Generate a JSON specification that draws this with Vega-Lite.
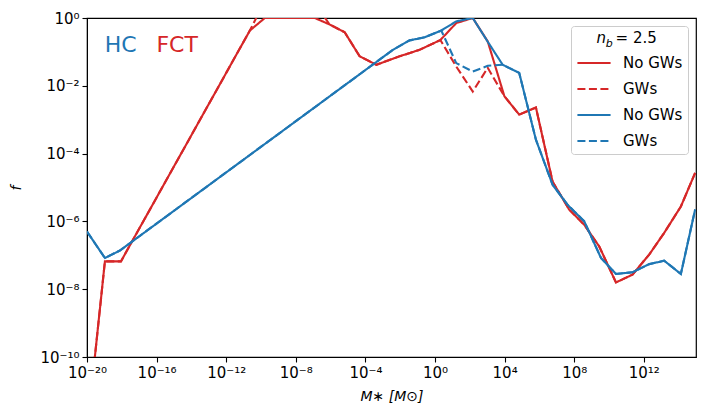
{
  "$schema": "https://vega.github.io/schema/vega-lite/v6.json",
  "width": 609,
  "height": 339,
  "autosize": {"type": "none"},
  "padding": {"left": 87, "top": 18, "right": 12, "bottom": 62},
  "config": {
    "font": "DejaVu Sans",
    "view": {"stroke": "black", "strokeWidth": 1.2},
    "axis": {
      "grid": false,
      "domainColor": "black",
      "tickColor": "black",
      "labelColor": "black",
      "titleColor": "black",
      "labelFont": "DejaVu Sans",
      "titleFont": "DejaVu Sans",
      "labelFontSize": 15,
      "titleFontSize": 14,
      "titleFontWeight": "normal",
      "labelFlush": false,
      "tickSize": 5,
      "tickWidth": 1.1
    }
  },
  "encoding": {
    "x": {
      "field": "m",
      "type": "quantitative",
      "scale": {"type": "log", "domain": [1e-20, 1e15], "nice": false},
      "axis": {
        "title": "M∗ [M⊙]",
        "titleFontStyle": "italic",
        "titlePadding": 9,
        "labelPadding": 3,
        "values": [1e-20, 1e-16, 1e-12, 1e-8, 1e-4, 1, 1e4, 1e8, 1e12],
        "labelExpr": "'10' + replace(replace(replace(replace(replace(replace(replace(replace(replace(replace(replace('' + round(log(datum.value) / LN10), regexp('-', 'g'), '⁻'), regexp('0', 'g'), '⁰'), regexp('1', 'g'), '¹'), regexp('2', 'g'), '²'), regexp('3', 'g'), '³'), regexp('4', 'g'), '⁴'), regexp('5', 'g'), '⁵'), regexp('6', 'g'), '⁶'), regexp('7', 'g'), '⁷'), regexp('8', 'g'), '⁸'), regexp('9', 'g'), '⁹')"
      }
    },
    "y": {
      "field": "f",
      "type": "quantitative",
      "scale": {"type": "log", "domain": [1e-10, 1], "nice": false},
      "axis": {
        "title": "f",
        "titleFontStyle": "italic",
        "titlePadding": 16,
        "labelPadding": 3,
        "values": [1e-10, 1e-8, 1e-6, 1e-4, 1e-2, 1],
        "labelExpr": "'10' + replace(replace(replace(replace(replace(replace(replace(replace(replace(replace(replace('' + round(log(datum.value) / LN10), regexp('-', 'g'), '⁻'), regexp('0', 'g'), '⁰'), regexp('1', 'g'), '¹'), regexp('2', 'g'), '²'), regexp('3', 'g'), '³'), regexp('4', 'g'), '⁴'), regexp('5', 'g'), '⁵'), regexp('6', 'g'), '⁶'), regexp('7', 'g'), '⁷'), regexp('8', 'g'), '⁸'), regexp('9', 'g'), '⁹')"
      }
    }
  },
  "layer": [
    {
      "data": {
        "values": [
          {"s": "FCT No GWs", "m": 1e-20, "f": 6.31e-13},
          {"s": "FCT No GWs", "m": 1.07e-19, "f": 6.61e-8},
          {"s": "FCT No GWs", "m": 8.91e-19, "f": 6.61e-8},
          {"s": "FCT No GWs", "m": 2.29e-11, "f": 0.427},
          {"s": "FCT No GWs", "m": 1.66e-10, "f": 1.0},
          {"s": "FCT No GWs", "m": 1.23e-7, "f": 1.0},
          {"s": "FCT No GWs", "m": 8.71e-7, "f": 0.646},
          {"s": "FCT No GWs", "m": 6.46e-6, "f": 0.38},
          {"s": "FCT No GWs", "m": 4.68e-5, "f": 0.0741},
          {"s": "FCT No GWs", "m": 4.27e-4, "f": 0.0417},
          {"s": "FCT No GWs", "m": 9.12e-3, "f": 0.0741},
          {"s": "FCT No GWs", "m": 0.129, "f": 0.115},
          {"s": "FCT No GWs", "m": 2.04, "f": 0.224},
          {"s": "FCT No GWs", "m": 16.6, "f": 0.708},
          {"s": "FCT No GWs", "m": 148, "f": 1.0},
          {"s": "FCT No GWs", "m": 1072, "f": 0.204},
          {"s": "FCT No GWs", "m": 9772, "f": 0.0049},
          {"s": "FCT No GWs", "m": 6.92e4, "f": 0.00141},
          {"s": "FCT No GWs", "m": 6.31e5, "f": 0.00229},
          {"s": "FCT No GWs", "m": 5.75e6, "f": 1.48e-5},
          {"s": "FCT No GWs", "m": 5.13e7, "f": 2.24e-6},
          {"s": "FCT No GWs", "m": 3.8e8, "f": 7.94e-7},
          {"s": "FCT No GWs", "m": 2.75e9, "f": 1.82e-7},
          {"s": "FCT No GWs", "m": 2.51e10, "f": 1.58e-8},
          {"s": "FCT No GWs", "m": 2.24e11, "f": 2.69e-8},
          {"s": "FCT No GWs", "m": 2.04e12, "f": 1.05e-7},
          {"s": "FCT No GWs", "m": 1.48e13, "f": 4.57e-7},
          {"s": "FCT No GWs", "m": 1.35e14, "f": 2.75e-6},
          {"s": "FCT No GWs", "m": 8.91e14, "f": 2.69e-5},

          {"s": "FCT GWs", "m": 1e-20, "f": 6.31e-13},
          {"s": "FCT GWs", "m": 1.07e-19, "f": 6.61e-8},
          {"s": "FCT GWs", "m": 8.91e-19, "f": 6.61e-8},
          {"s": "FCT GWs", "m": 2.29e-11, "f": 0.427},
          {"s": "FCT GWs", "m": 1.66e-10, "f": 3.16},
          {"s": "FCT GWs", "m": 1.23e-7, "f": 2.75},
          {"s": "FCT GWs", "m": 8.71e-7, "f": 0.646},
          {"s": "FCT GWs", "m": 6.46e-6, "f": 0.38},
          {"s": "FCT GWs", "m": 4.68e-5, "f": 0.0741},
          {"s": "FCT GWs", "m": 4.27e-4, "f": 0.0417},
          {"s": "FCT GWs", "m": 9.12e-3, "f": 0.0741},
          {"s": "FCT GWs", "m": 0.129, "f": 0.115},
          {"s": "FCT GWs", "m": 2.04, "f": 0.224},
          {"s": "FCT GWs", "m": 16.6, "f": 0.0372},
          {"s": "FCT GWs", "m": 148, "f": 0.00676},
          {"s": "FCT GWs", "m": 1072, "f": 0.0339},
          {"s": "FCT GWs", "m": 9772, "f": 0.0049},
          {"s": "FCT GWs", "m": 6.92e4, "f": 0.00141},
          {"s": "FCT GWs", "m": 6.31e5, "f": 0.00229},
          {"s": "FCT GWs", "m": 5.75e6, "f": 1.48e-5},
          {"s": "FCT GWs", "m": 5.13e7, "f": 2.24e-6},
          {"s": "FCT GWs", "m": 3.8e8, "f": 7.94e-7},
          {"s": "FCT GWs", "m": 2.75e9, "f": 1.82e-7},
          {"s": "FCT GWs", "m": 2.51e10, "f": 1.58e-8},
          {"s": "FCT GWs", "m": 2.24e11, "f": 2.69e-8},
          {"s": "FCT GWs", "m": 2.04e12, "f": 1.05e-7},
          {"s": "FCT GWs", "m": 1.48e13, "f": 4.57e-7},
          {"s": "FCT GWs", "m": 1.35e14, "f": 2.75e-6},
          {"s": "FCT GWs", "m": 8.91e14, "f": 2.69e-5},

          {"s": "HC No GWs", "m": 1e-20, "f": 5.01e-7},
          {"s": "HC No GWs", "m": 1.07e-19, "f": 8.32e-8},
          {"s": "HC No GWs", "m": 7.76e-19, "f": 1.38e-7},
          {"s": "HC No GWs", "m": 3.8e-3, "f": 0.115},
          {"s": "HC No GWs", "m": 0.0347, "f": 0.219},
          {"s": "HC No GWs", "m": 0.251, "f": 0.269},
          {"s": "HC No GWs", "m": 2.29, "f": 0.427},
          {"s": "HC No GWs", "m": 16.6, "f": 0.794},
          {"s": "HC No GWs", "m": 148, "f": 1.0},
          {"s": "HC No GWs", "m": 1072, "f": 0.2},
          {"s": "HC No GWs", "m": 7762, "f": 0.0417},
          {"s": "HC No GWs", "m": 6.92e4, "f": 0.024},
          {"s": "HC No GWs", "m": 6.31e5, "f": 2.57e-4},
          {"s": "HC No GWs", "m": 5.75e6, "f": 1.2e-5},
          {"s": "HC No GWs", "m": 4.17e7, "f": 3.09e-6},
          {"s": "HC No GWs", "m": 3.8e8, "f": 1e-6},
          {"s": "HC No GWs", "m": 3.47e9, "f": 8.32e-8},
          {"s": "HC No GWs", "m": 2.51e10, "f": 2.82e-8},
          {"s": "HC No GWs", "m": 2.24e11, "f": 3.16e-8},
          {"s": "HC No GWs", "m": 2.04e12, "f": 5.5e-8},
          {"s": "HC No GWs", "m": 1.48e13, "f": 6.92e-8},
          {"s": "HC No GWs", "m": 1.35e14, "f": 2.82e-8},
          {"s": "HC No GWs", "m": 8.91e14, "f": 2.24e-6},

          {"s": "HC GWs", "m": 1e-20, "f": 5.01e-7},
          {"s": "HC GWs", "m": 1.07e-19, "f": 8.32e-8},
          {"s": "HC GWs", "m": 7.76e-19, "f": 1.38e-7},
          {"s": "HC GWs", "m": 3.8e-3, "f": 0.115},
          {"s": "HC GWs", "m": 0.0347, "f": 0.219},
          {"s": "HC GWs", "m": 0.251, "f": 0.269},
          {"s": "HC GWs", "m": 2.29, "f": 0.427},
          {"s": "HC GWs", "m": 16.6, "f": 0.0468},
          {"s": "HC GWs", "m": 148, "f": 0.0263},
          {"s": "HC GWs", "m": 1072, "f": 0.0389},
          {"s": "HC GWs", "m": 7762, "f": 0.0417},
          {"s": "HC GWs", "m": 6.92e4, "f": 0.024},
          {"s": "HC GWs", "m": 6.31e5, "f": 2.57e-4},
          {"s": "HC GWs", "m": 5.75e6, "f": 1.2e-5},
          {"s": "HC GWs", "m": 4.17e7, "f": 3.09e-6},
          {"s": "HC GWs", "m": 3.8e8, "f": 1e-6},
          {"s": "HC GWs", "m": 3.47e9, "f": 8.32e-8},
          {"s": "HC GWs", "m": 2.51e10, "f": 2.82e-8},
          {"s": "HC GWs", "m": 2.24e11, "f": 3.16e-8},
          {"s": "HC GWs", "m": 2.04e12, "f": 5.5e-8},
          {"s": "HC GWs", "m": 1.48e13, "f": 6.92e-8},
          {"s": "HC GWs", "m": 1.35e14, "f": 2.82e-8},
          {"s": "HC GWs", "m": 8.91e14, "f": 2.24e-6}
        ]
      },
      "mark": {"type": "line", "clip": true, "strokeWidth": 2.1},
      "encoding": {
        "color": {
          "field": "s",
          "type": "nominal",
          "scale": {
            "domain": ["FCT No GWs", "FCT GWs", "HC No GWs", "HC GWs"],
            "range": ["#d62728", "#d62728", "#1f77b4", "#1f77b4"]
          },
          "legend": {
            "title": " ",
            "titleFontSize": 10,
            "orient": "top-right",
            "offset": 8,
            "padding": 5,
            "titlePadding": 4,
            "rowPadding": -20,
            "symbolType": "stroke",
            "symbolSize": 1100,
            "symbolStrokeWidth": 2,
            "labelFontSize": 15,
            "labelOffset": 11,
            "labelColor": "black",
            "strokeColor": "#cccccc",
            "cornerRadius": 3,
            "labelExpr": "slice(datum.label, indexof(datum.label, ' ') + 1)"
          }
        },
        "strokeDash": {
          "field": "s",
          "type": "nominal",
          "scale": {
            "domain": ["FCT No GWs", "FCT GWs", "HC No GWs", "HC GWs"],
            "range": [[1, 0], [8, 3.5], [1, 0], [8, 3.5]]
          }
        }
      }
    },
    {
      "data": {"values": [{"m": 1.05e-19, "f": 0.0966, "t": "HC"}]},
      "mark": {"type": "text", "align": "left", "baseline": "alphabetic", "fontSize": 22, "color": "#1f77b4"},
      "encoding": {"text": {"field": "t"}}
    },
    {
      "data": {"values": [{"m": 9.8e-17, "f": 0.0966, "t": "FCT"}]},
      "mark": {"type": "text", "align": "left", "baseline": "alphabetic", "fontSize": 22, "color": "#d62728"},
      "encoding": {"text": {"field": "t"}}
    },
    {
      "data": {"values": [{"m": 1.9e9, "f": 0.18, "t": "n"}]},
      "mark": {"type": "text", "align": "left", "baseline": "alphabetic", "fontSize": 15, "fontStyle": "italic", "color": "black"},
      "encoding": {"text": {"field": "t"}}
    },
    {
      "data": {"values": [{"m": 6.6e9, "f": 0.142, "t": "b"}]},
      "mark": {"type": "text", "align": "left", "baseline": "alphabetic", "fontSize": 11, "fontStyle": "italic", "color": "black"},
      "encoding": {"text": {"field": "t"}}
    },
    {
      "data": {"values": [{"m": 2.4e10, "f": 0.18, "t": "= 2.5"}]},
      "mark": {"type": "text", "align": "left", "baseline": "alphabetic", "fontSize": 15, "color": "black"},
      "encoding": {"text": {"field": "t"}}
    }
  ]
}
